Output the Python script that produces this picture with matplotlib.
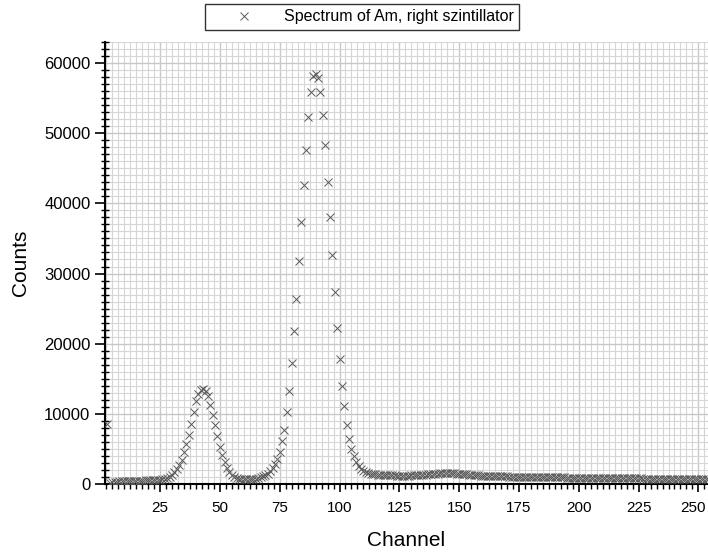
import matplotlib
matplotlib.use("Agg")
import matplotlib.pyplot as plt
from matplotlib.ticker import MultipleLocator
from matplotlib.transforms import ScaledTranslation

plt.rcParams['font.family'] = ['Liberation Sans', 'DejaVu Sans']

channels = list(range(3, 255))
counts = [
    8500, 150, 250, 300, 350, 380, 400, 420, 430, 440,          # 3-12
    450, 455, 460, 470, 480, 490, 500, 510, 530, 550,           # 13-22
    570, 600, 640, 700, 780, 900, 1050, 1300, 1650, 2100,       # 23-32
    2700, 3450, 4500, 5700, 7000, 8500, 10200, 11800, 12800, 13400,  # 33-42
    13500, 13200, 12500, 11300, 9900, 8400, 6800, 5300, 4100, 3100,  # 43-52
    2350, 1750, 1350, 1050, 880, 780, 720, 690, 670, 660,       # 53-62
    670, 700, 760, 840, 950, 1080, 1250, 1480, 1800, 2250,      # 63-72
    2900, 3560, 4600, 6130, 7650, 10260, 13250, 17240, 21850, 26370,  # 73-82
    31780, 37380, 42610, 47640, 52350, 55870, 58150, 58500, 57820, 55820,  # 83-92
    52550, 48360, 43080, 38050, 32640, 27320, 22190, 17860, 14010, 11120,  # 93-102
    8450, 6460, 4950, 3950, 3180, 2610, 2180, 1900, 1720, 1580,  # 103-112
    1480, 1410, 1360, 1320, 1290, 1270, 1250, 1240, 1230, 1220,  # 113-122
    1215, 1210, 1205, 1200, 1200, 1205, 1210, 1220, 1235, 1250,  # 123-132
    1270, 1290, 1320, 1350, 1380, 1410, 1440, 1470, 1490, 1510,  # 133-142
    1520, 1530, 1535, 1530, 1520, 1505, 1485, 1460, 1430, 1400,  # 143-152
    1370, 1340, 1310, 1280, 1250, 1225, 1200, 1180, 1160, 1145,  # 153-162
    1130, 1120, 1110, 1100, 1090, 1085, 1075, 1070, 1060, 1055,  # 163-172
    1050, 1040, 1035, 1030, 1020, 1015, 1010, 1000, 995, 990,    # 173-182
    985, 980, 975, 970, 965, 960, 955, 950, 945, 940,            # 183-192
    935, 930, 925, 920, 915, 910, 905, 900, 895, 890,            # 193-202
    885, 880, 875, 870, 865, 860, 855, 850, 848, 845,            # 203-212
    840, 835, 830, 825, 820, 818, 815, 810, 805, 800,            # 213-222
    798, 795, 790, 785, 780, 778, 775, 770, 765, 760,            # 223-232
    758, 755, 750, 745, 740, 738, 735, 730, 728, 725,            # 233-242
    720, 718, 715, 712, 710, 708, 705, 702, 700, 698,            # 243-252
    695, 692,                                                    # 253-254
]

x_ticks = [25, 50, 75, 100, 125, 150, 175, 200, 225, 250]
y_ticks = [0, 10000, 20000, 30000, 40000, 50000, 60000]

fig = plt.figure(figsize=(7.08, 5.54), dpi=100)
ax = fig.add_axes([105/708, 1-484/554, 603/708, (484-42)/554])

ax.plot(channels, counts, linestyle='none', marker='x', markersize=5.5,
        markeredgewidth=0.7, color='#5a5a5a',
        label='Spectrum of Am, right szintillator', zorder=3)

ax.set_xlim(2, 254)
ax.set_ylim(0, 63000)
ax.set_xticks(x_ticks)
ax.set_yticks(y_ticks)
ax.xaxis.set_minor_locator(MultipleLocator(2.5))
ax.yaxis.set_minor_locator(MultipleLocator(1000))

ax.grid(True, which='minor', color='#d6d6d6', linewidth=0.8, zorder=0)
ax.grid(True, which='major', color='#c8c8c8', linewidth=1.0, zorder=0)
ax.set_axisbelow(True)

for s in ['top', 'right']:
    ax.spines[s].set_visible(False)
for s in ['left', 'bottom']:
    ax.spines[s].set_linewidth(1.5)

ax.tick_params(axis='x', which='major', direction='out', length=6, width=1.2, labelsize=11, pad=6)
ax.tick_params(axis='x', which='minor', direction='out', length=3.5, width=1.0)
ax.tick_params(axis='y', which='major', direction='out', length=7, width=1.2, labelsize=12)
ax.tick_params(axis='y', which='minor', direction='inout', length=6, width=1.0)

# nudge the last x tick label so it stays inside the figure
last_lbl = ax.xaxis.get_major_ticks()[-1].label1
last_lbl.set_transform(last_lbl.get_transform() +
                       ScaledTranslation(-5/100, 0, fig.dpi_scale_trans))

ax.set_xlabel('Channel', fontsize=15, labelpad=12)
ax.set_ylabel('Counts', fontsize=15, labelpad=10)

leg = fig.legend(loc='center', bbox_to_anchor=(362/708, 1-17/554),
                 fontsize=11.5, frameon=True, fancybox=False,
                 edgecolor='black', borderpad=0.35, handlelength=4.2,
                 handletextpad=0.4, borderaxespad=0)
leg.get_frame().set_linewidth(1.0)

fig.savefig('out.png', dpi=100)
